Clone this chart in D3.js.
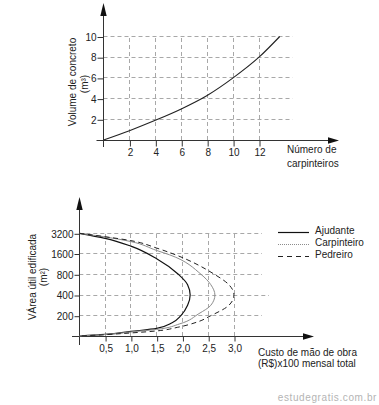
<!DOCTYPE html>
<html><head><meta charset="utf-8">
<script src="https://cdn.jsdelivr.net/npm/d3@7"></script>
<style>
html,body{margin:0;padding:0;background:#fff;}
svg{display:block;}
text{font-family:"Liberation Sans",Arial,sans-serif;font-size:10px;fill:#222;}
</style></head>
<body>
<svg id="c" width="379" height="405"></svg>
<script>
// ---------- Top chart data ----------
const topXTicks = [2,4,6,8,10,12];
const topYTicks = [2,4,6,8,10];
const carpinteiros = [0,2,4,6,8,10,12,13.6];
const volume = [0,0.9,1.9,3.0,4.3,6.0,8.0,10];

// ---------- Bottom chart data ----------
const areaLevels = [0,200,400,800,1600,3200];
const costTicks = [0.5,1.0,1.5,2.0,2.5,3.0];
const costTickLabels = ["0,5","1,0","1,5","2,0","2,5","3,0"];
const seriesNames = ["Ajudante","Carpinteiro","Pedreiro"];
// cost (R$x100) for each curve, with matching area (m2)
const ajudanteCost = [0,0.5,1.0,1.5,1.92,2.1,2.15,2.1,1.97,1.8,1.5,1.0,0.5,0];
const ajudanteArea = [3200,2800,2180,1400,800,600,400,300,200,130,75,45,16,0];
const carpinteiroCost = [0,0.5,1.0,1.5,1.75,2.36,2.55,2.63,2.55,2.32,1.95,1.5,1.0,0.5,0];
const carpinteiroArea = [3200,2910,2545,1840,1550,800,600,400,300,220,120,65,40,15,0];
const pedreiroCost = [0,0.5,1.0,1.5,1.8,2.62,2.9,3.0,2.9,2.55,2.3,1.9,1.5,1.0,0.5,0];
const pedreiroArea = [3200,2930,2620,2030,1600,800,600,400,300,200,140,85,50,30,13,0];

const svg = d3.select("#c");
const axisCol = "#333", gridCol = "#a8a8a8";
const snap = v => Math.round(v - 0.5) + 0.5;

function arrow(g, pts){ g.append("path").attr("d","M"+pts.map(p=>p.join(",")).join("L")+"Z").attr("fill","#111"); }

// ================= TOP CHART =================
const xT = d3.scaleLinear().domain([0,12]).range([103.5,259]);
const yT = d3.scaleLinear().domain([0,10]).range([140,36.5]);
const gT = svg.append("g");
const xGridMax = 14.6;
gT.selectAll(".hg").data(topYTicks).join("line")
  .attr("x1",xT(0)).attr("x2",xT(xGridMax)).attr("y1",d=>snap(yT(d))).attr("y2",d=>snap(yT(d)))
  .attr("stroke",gridCol).attr("stroke-dasharray","4,3");
gT.selectAll(".vg").data(topXTicks).join("line")
  .attr("x1",d=>snap(xT(d))).attr("x2",d=>snap(xT(d))).attr("y1",yT(0)).attr("y2",yT(10))
  .attr("stroke",gridCol).attr("stroke-dasharray","4,3");
const axL = d3.axisLeft(yT).tickValues(topYTicks).tickSizeInner(6).tickSizeOuter(0).tickPadding(1).tickFormat(d3.format("d"));
const gyT = gT.append("g").attr("transform","translate("+snap(xT(0))+",0.5)").call(axL);
const axB = d3.axisBottom(xT).tickValues(topXTicks).tickSizeInner(6).tickSizeOuter(0).tickPadding(2).tickFormat(d3.format("d"));
const gxT = gT.append("g").attr("transform","translate(0.5,"+snap(yT(0))+")").call(axB);
[gyT,gxT].forEach(g=>{g.select(".domain").remove(); g.selectAll("line").attr("stroke",axisCol);
  g.selectAll("text").attr("font-family","Liberation Sans, Arial, sans-serif").attr("font-size",10).attr("fill","#222");});
gT.append("line").attr("x1",snap(xT(0))).attr("x2",snap(xT(0))).attr("y1",147).attr("y2",12).attr("stroke",axisCol);
arrow(gT,[[snap(xT(0)),3],[snap(xT(0))-3.2,16],[snap(xT(0))+3.2,16]]);
gT.append("line").attr("x1",96.5).attr("x2",330).attr("y1",snap(yT(0))).attr("y2",snap(yT(0))).attr("stroke",axisCol);
arrow(gT,[[339,snap(yT(0))],[328,snap(yT(0))-3.2],[328,snap(yT(0))+3.2]]);
gT.append("path").datum(carpinteiros.map((c,i)=>[c,volume[i]]))
  .attr("d",d3.line().x(d=>xT(d[0])).y(d=>yT(d[1])).curve(d3.curveMonotoneX))
  .attr("fill","none").attr("stroke","#222").attr("stroke-width",1.1);
gT.append("text").attr("transform","translate(72,82) rotate(-90)").attr("text-anchor","middle").attr("dominant-baseline","central").text("Volume de concreto");
gT.append("text").attr("transform","translate(84,84) rotate(-90)").attr("text-anchor","middle").attr("dominant-baseline","central").text("(m³)");
gT.append("text").attr("x",287).attr("y",153).text("Número de");
gT.append("text").attr("x",287).attr("y",167).text("carpinteiros");

// ================= BOTTOM CHART =================
const xB = d3.scaleLinear().domain([0,3]).range([79.3,234]);
const yB = d3.scaleLinear().domain(areaLevels).range([336,315.7,295,274.3,253.5,233.3]);
const gB = svg.append("g");
const gridLevels = areaLevels.slice(1);
gB.selectAll(".hg").data(gridLevels).join("line")
  .attr("x1",xB(0)).attr("x2",d=>d===400?269:262).attr("y1",d=>snap(yB(d))).attr("y2",d=>snap(yB(d)))
  .attr("stroke",gridCol).attr("stroke-dasharray","4,3");
gB.selectAll(".vg").data(costTicks).join("line")
  .attr("x1",d=>snap(xB(d))).attr("x2",d=>snap(xB(d))).attr("y1",yB(0)).attr("y2",yB(3200))
  .attr("stroke",gridCol).attr("stroke-dasharray","4,3");
const axLB = d3.axisLeft(yB).tickValues(gridLevels).tickSizeInner(5).tickSizeOuter(0).tickPadding(1).tickFormat(d=>String(d));
const gyB = gB.append("g").attr("transform","translate("+snap(xB(0))+",0.5)").call(axLB);
const axBB = d3.axisBottom(xB).tickValues(costTicks).tickSizeInner(5).tickSizeOuter(0).tickPadding(3).tickFormat((d,i)=>costTickLabels[i]);
const gxB = gB.append("g").attr("transform","translate(0.5,"+snap(yB(0))+")").call(axBB);
[gyB,gxB].forEach(g=>{g.select(".domain").remove(); g.selectAll("line").attr("stroke",axisCol);
  g.selectAll("text").attr("font-family","Liberation Sans, Arial, sans-serif").attr("font-size",10).attr("fill","#222");});
gB.append("line").attr("x1",snap(xB(0))).attr("x2",snap(xB(0))).attr("y1",345).attr("y2",208).attr("stroke",axisCol);
arrow(gB,[[snap(xB(0)),197],[snap(xB(0))-3.2,210],[snap(xB(0))+3.2,210]]);
gB.append("line").attr("x1",72).attr("x2",305).attr("y1",snap(yB(0))).attr("y2",snap(yB(0))).attr("stroke",axisCol);
arrow(gB,[[314,snap(yB(0))],[303,snap(yB(0))-3.2],[303,snap(yB(0))+3.2]]);

const styles = [
  {stroke:"#111", width:1.2, dash:null},
  {stroke:"#8c8c8c", width:1, dash:null},
  {stroke:"#222", width:1, dash:"5,3.5"}
];
const curves = [
  ajudanteCost.map((c,i)=>[c,ajudanteArea[i]]),
  carpinteiroCost.map((c,i)=>[c,carpinteiroArea[i]]),
  pedreiroCost.map((c,i)=>[c,pedreiroArea[i]])
];
const lineB = d3.line().x(d=>xB(d[0])).y(d=>yB(d[1])).curve(d3.curveMonotoneY);
curves.forEach((pts,i)=>{
  gB.append("path").datum(pts).attr("d",lineB).attr("fill","none")
    .attr("stroke",styles[i].stroke).attr("stroke-width",styles[i].width)
    .attr("stroke-dasharray",styles[i].dash);
});
const legY = [232.5,244.5,256.5];
seriesNames.forEach((n,i)=>{
  gB.append("line").attr("x1",278).attr("x2",309).attr("y1",legY[i]).attr("y2",legY[i])
    .attr("stroke",styles[i].stroke).attr("stroke-width",styles[i].width)
    .attr("stroke-dasharray", i===1 ? "1,1" : (i===2 ? "5,4" : null));
  gB.append("text").attr("x",315).attr("y",legY[i]+1.5).text(n);
});
gB.append("text").attr("transform","translate(32,277) rotate(-90)").attr("text-anchor","middle").attr("dominant-baseline","central").text("VÁrea útil edificada");
gB.append("text").attr("transform","translate(43,277) rotate(-90)").attr("text-anchor","middle").attr("dominant-baseline","central").text("(m²)");
gB.append("text").attr("x",258).attr("y",355.5).text("Custo de mão de obra");
gB.append("text").attr("x",258).attr("y",366.5).text("(R$)x100 mensal total");
svg.append("text").attr("x",377).attr("y",401).attr("text-anchor","end")
  .attr("fill","#b4b4b4").style("fill","#b4b4b4").attr("letter-spacing","0.6").text("estudegratis.com.br");
</script>
</body></html>
